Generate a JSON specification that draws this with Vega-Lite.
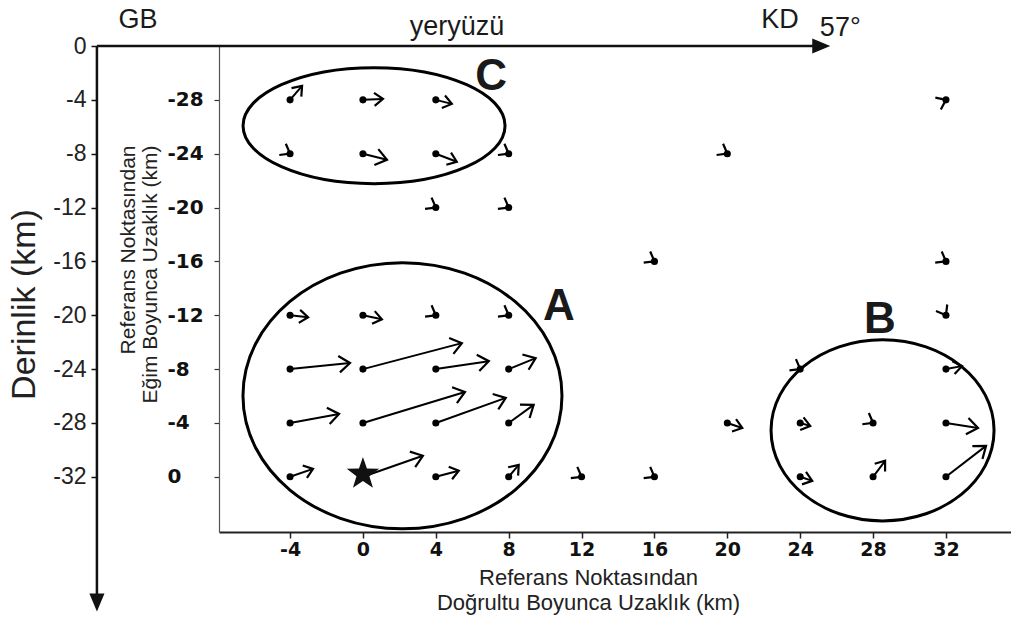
{
  "$schema": "https://vega.github.io/schema/vega-lite/v6.json",
  "width": 792,
  "height": 486,
  "autosize": "none",
  "padding": {"left": 219, "top": 46, "right": 0, "bottom": 92},
  "background": "white",
  "config": {"view": {"stroke": null}, "axis": {"grid": false}},
  "datasets": {
    "vec": [
      {"x": -4, "y": -28, "x2": -3.34, "y2": -29.04, "rake": 49},
      {"x": 0, "y": -28, "x2": 1.1, "y2": -28.07, "rake": 3},
      {"x": 4, "y": -28, "x2": 4.88, "y2": -27.7, "rake": -14},
      {"x": 32, "y": -28, "x2": 32, "y2": -28, "rake": 25},
      {"x": -4, "y": -24, "x2": -4, "y2": -24, "rake": -30},
      {"x": 0, "y": -24, "x2": 1.32, "y2": -23.55, "rake": -14},
      {"x": 4, "y": -24, "x2": 5.15, "y2": -23.4, "rake": -21},
      {"x": 8, "y": -24, "x2": 8, "y2": -24, "rake": -30},
      {"x": 20, "y": -24, "x2": 20, "y2": -24, "rake": -30},
      {"x": 4, "y": -20, "x2": 4, "y2": -20, "rake": -30},
      {"x": 8, "y": -20, "x2": 8, "y2": -20, "rake": -30},
      {"x": 16, "y": -16, "x2": 16, "y2": -16, "rake": -30},
      {"x": 32, "y": -16, "x2": 32, "y2": -16, "rake": -30},
      {"x": -4, "y": -12, "x2": -3.01, "y2": -11.85, "rake": -6},
      {"x": 0, "y": -12, "x2": 1.04, "y2": -11.7, "rake": -12},
      {"x": 4, "y": -12, "x2": 4, "y2": -12, "rake": -30},
      {"x": 8, "y": -12, "x2": 8, "y2": -12, "rake": -30},
      {"x": 32, "y": -12, "x2": 32, "y2": -12, "rake": -60},
      {"x": -4, "y": -8, "x2": -0.71, "y2": -8.45, "rake": 6},
      {"x": 0, "y": -8, "x2": 5.43, "y2": -9.93, "rake": 15},
      {"x": 4, "y": -8, "x2": 6.91, "y2": -8.59, "rake": 9},
      {"x": 8, "y": -8, "x2": 9.48, "y2": -8.82, "rake": 22},
      {"x": 24, "y": -8, "x2": 24, "y2": -8, "rake": -30},
      {"x": 32, "y": -8, "x2": 32.88, "y2": -8.22, "rake": 10},
      {"x": -4, "y": -4, "x2": -1.31, "y2": -4.67, "rake": 10},
      {"x": 0, "y": -4, "x2": 5.6, "y2": -6.3, "rake": 17},
      {"x": 4, "y": -4, "x2": 7.84, "y2": -5.86, "rake": 20},
      {"x": 8, "y": -4, "x2": 9.37, "y2": -5.34, "rake": 36},
      {"x": 20, "y": -4, "x2": 20.82, "y2": -3.63, "rake": -18},
      {"x": 24, "y": -4, "x2": 24.55, "y2": -3.78, "rake": -15},
      {"x": 28, "y": -4, "x2": 28, "y2": -4, "rake": -30},
      {"x": 32, "y": -4, "x2": 33.76, "y2": -3.63, "rake": -9},
      {"x": -4, "y": 0, "x2": -2.74, "y2": -0.59, "rake": 19},
      {"x": 0, "y": 0, "x2": 3.29, "y2": -1.56, "rake": 19},
      {"x": 4, "y": 0, "x2": 5.26, "y2": -0.45, "rake": 15},
      {"x": 8, "y": 0, "x2": 8.55, "y2": -0.89, "rake": 50},
      {"x": 12, "y": 0, "x2": 12, "y2": 0, "rake": -30},
      {"x": 16, "y": 0, "x2": 16, "y2": 0, "rake": -30},
      {"x": 24, "y": 0, "x2": 24.66, "y2": 0.3, "rake": -18},
      {"x": 28, "y": 0, "x2": 28.66, "y2": -1.19, "rake": 53},
      {"x": 32, "y": 0, "x2": 34.2, "y2": -2.3, "rake": 38}
    ],
    "ell": [
      {"name": "A", "x": 2.17, "y": -6.02},
      {"name": "B", "x": 28.52, "y": -3.45},
      {"name": "C", "x": 0.61, "y": -26.08}
    ],
    "reg": [
      {"t": "A", "x": 10.76, "y": -12.63},
      {"t": "B", "x": 28.38, "y": -11.66},
      {"t": "C", "x": 7.03, "y": -29.72}
    ],
    "star": [{"x": 0, "y": -0.2}],
    "ann": [
      {"x": -14.6, "y": -32, "x2": 25.2, "y2": -32},
      {"x": -14.6, "y": -32, "x2": -14.6, "y2": 9.4}
    ],
    "heads": [
      {"dir": "right", "x": 25.65, "y": -32},
      {"dir": "down", "x": -14.6, "y": 10.0}
    ],
    "txt": [
      {"t": "GB", "x": -12.34, "y": -33.36},
      {"t": "yeryüzü", "x": 5.16, "y": -32.84},
      {"t": "KD", "x": 22.89, "y": -33.36},
      {"t": "57°", "x": 26.2, "y": -32.75}
    ]
  },
  "resolve": {"axis": {"x": "independent", "y": "independent"}},
  "layer": [
    {
      "data": {"name": "ell"},
      "transform": [{"filter": "datum.name === 'A'"}],
      "mark": {"type": "point", "shape": "M-1,0A1,0.834 0 1,0 1,0A1,0.834 0 1,0 -1,0", "size": 101761, "filled": false, "strokeWidth": 3, "color": "black", "opacity": 1},
      "encoding": {
        "x": {"field": "x", "type": "quantitative", "scale": {"domain": [-7.9, 35.57], "nice": false, "zero": false}, "axis": null},
        "y": {"field": "y", "type": "quantitative", "scale": {"domain": [-32, 4.1], "nice": false, "zero": false, "reverse": true}, "axis": null}
      }
    },
    {
      "data": {"name": "ell"},
      "transform": [{"filter": "datum.name === 'B'"}],
      "mark": {"type": "point", "shape": "M-1,0A1,0.812 0 1,0 1,0A1,0.812 0 1,0 -1,0", "size": 49729, "filled": false, "strokeWidth": 3, "color": "black", "opacity": 1},
      "encoding": {
        "x": {"field": "x", "type": "quantitative", "axis": null},
        "y": {"field": "y", "type": "quantitative", "axis": null}
      }
    },
    {
      "data": {"name": "ell"},
      "transform": [{"filter": "datum.name === 'C'"}],
      "mark": {"type": "point", "shape": "M-1,0A1,0.443 0 1,0 1,0A1,0.443 0 1,0 -1,0", "size": 68644, "filled": false, "strokeWidth": 3, "color": "black", "opacity": 1},
      "encoding": {
        "x": {"field": "x", "type": "quantitative", "axis": null},
        "y": {"field": "y", "type": "quantitative", "axis": null}
      }
    },
    {
      "data": {"name": "vec"},
      "mark": {"type": "rule", "strokeWidth": 2, "color": "black"},
      "encoding": {
        "x": {"field": "x", "type": "quantitative", "axis": null},
        "y": {"field": "y", "type": "quantitative", "axis": null},
        "x2": {"field": "x2"},
        "y2": {"field": "y2"}
      }
    },
    {
      "data": {"name": "vec"},
      "transform": [{"filter": "abs(datum.x2 - datum.x) < 1.3"}],
      "mark": {"type": "point", "shape": "M-1,-0.75L0,0L-1,0.75", "filled": false, "size": 300, "strokeWidth": 2.2, "color": "black", "opacity": 1},
      "encoding": {
        "x": {"field": "x2", "type": "quantitative", "axis": null},
        "y": {"field": "y2", "type": "quantitative", "axis": null},
        "angle": {"field": "rake", "type": "quantitative", "scale": {"domain": [-180, 180], "range": [180, -180]}}
      }
    },
    {
      "data": {"name": "vec"},
      "transform": [{"filter": "abs(datum.x2 - datum.x) >= 1.3"}],
      "mark": {"type": "point", "shape": "M-1,-0.75L0,0L-1,0.75", "filled": false, "size": 480, "strokeWidth": 2.2, "color": "black", "opacity": 1},
      "encoding": {
        "x": {"field": "x2", "type": "quantitative", "axis": null},
        "y": {"field": "y2", "type": "quantitative", "axis": null},
        "angle": {"field": "rake", "type": "quantitative", "scale": {"domain": [-180, 180], "range": [180, -180]}}
      }
    },
    {
      "data": {"name": "vec"},
      "mark": {"type": "point", "shape": "circle", "filled": true, "size": 50, "color": "black", "opacity": 1},
      "encoding": {
        "x": {
          "field": "x", "type": "quantitative",
          "axis": {
            "orient": "bottom",
            "values": [-4, 0, 4, 8, 12, 16, 20, 24, 28, 32],
            "labelExpr": "'' + datum.value",
            "title": ["Referans Noktasından", "Doğrultu Boyunca Uzaklık (km)"],
            "labelFont": "DejaVu Sans", "labelFontWeight": "bold", "labelFontSize": 19, "labelColor": "#111",
            "labelPadding": 2, "labelFlush": false, "labelOverlap": false, "labelBound": false,
            "tickSize": 6, "tickColor": "#222", "tickWidth": 1.5,
            "domainColor": "#222", "domainWidth": 2,
            "titleFont": "Liberation Sans", "titleFontSize": 22, "titleFontWeight": "normal", "titleColor": "#222",
            "titleLineHeight": 25, "titleX": 369, "titleY": 35, "titleBaseline": "top", "titleAlign": "center", "titleAnchor": null
          }
        },
        "y": {
          "field": "y", "type": "quantitative",
          "axis": {
            "orient": "left",
            "values": [-28, -24, -20, -16, -12, -8, -4, 0],
            "labelExpr": "'' + datum.value",
            "title": ["Referans Noktasından", "Eğim Boyunca Uzaklık (km)"],
            "labelFont": "DejaVu Sans", "labelFontWeight": "bold", "labelFontSize": 20, "labelColor": "#111",
            "labelAlign": "left", "labelPadding": 47, "labelOverlap": false, "labelBound": false, "labelFlush": false,
            "tickSize": 5, "tickColor": "#333", "tickWidth": 1.2,
            "domainColor": "#555", "domainWidth": 1.2,
            "titleFont": "Liberation Sans", "titleFontSize": 21, "titleFontWeight": "normal", "titleColor": "#222",
            "titleAngle": 270, "titleAlign": "right", "titleBaseline": "top", "titleLineHeight": 22,
            "titleX": -102, "titleY": 99, "titleAnchor": null
          }
        }
      }
    },
    {
      "data": {"name": "star"},
      "mark": {"type": "point", "shape": "M0,-1L0.235,-0.324L0.951,-0.309L0.38,0.124L0.588,0.809L0,0.4L-0.588,0.809L-0.38,0.124L-0.951,-0.309L-0.235,-0.324Z", "filled": true, "size": 1156, "color": "#111", "opacity": 1},
      "encoding": {
        "x": {"field": "x", "type": "quantitative", "axis": null},
        "y": {"field": "y", "type": "quantitative", "axis": null}
      }
    },
    {
      "data": {"name": "reg"},
      "mark": {"type": "text", "font": "Liberation Sans", "fontWeight": "bold", "fontSize": 44, "color": "#1a1a1a", "baseline": "middle", "align": "center"},
      "encoding": {
        "x": {"field": "x", "type": "quantitative", "axis": null},
        "y": {"field": "y", "type": "quantitative", "axis": null},
        "text": {"field": "t"}
      }
    },
    {
      "data": {"name": "ann"},
      "mark": {"type": "rule", "strokeWidth": 2.5, "color": "#111"},
      "encoding": {
        "x": {"field": "x", "type": "quantitative", "axis": null},
        "y": {
          "field": "y", "type": "quantitative",
          "axis": {
            "orient": "left", "offset": 122,
            "values": [-32, -28, -24, -20, -16, -12, -8, -4, 0],
            "labelExpr": "'' + (-32 - datum.value)",
            "domain": false, "tickSize": 6, "tickColor": "#111", "tickWidth": 1.5,
            "labelFont": "Liberation Sans", "labelFontSize": 23, "labelPadding": 5, "labelColor": "#222",
            "labelOverlap": false, "labelBound": false, "labelFlush": false,
            "title": "Derinlik (km)", "titleFont": "Liberation Sans", "titleFontSize": 34, "titleFontWeight": "normal", "titleColor": "#222",
            "titleAngle": 270, "titleAlign": "center", "titleBaseline": "middle", "titleX": -73, "titleY": 258, "titleAnchor": null
          }
        },
        "x2": {"field": "x2"},
        "y2": {"field": "y2"}
      }
    },
    {
      "data": {"name": "heads"},
      "mark": {"type": "point", "filled": true, "size": 1296, "color": "#111", "opacity": 1},
      "encoding": {
        "x": {"field": "x", "type": "quantitative", "axis": null},
        "y": {"field": "y", "type": "quantitative", "axis": null},
        "shape": {"field": "dir", "type": "nominal", "scale": {"domain": ["right", "down"], "range": ["M0,0L-1,-0.42L-1,0.42Z", "M0,0L-0.42,-1L0.42,-1Z"]}, "legend": null}
      }
    },
    {
      "data": {"name": "txt"},
      "mark": {"type": "text", "font": "Liberation Sans Narrow, Liberation Sans", "fontSize": 27, "color": "#1a1a1a", "baseline": "alphabetic", "align": "center"},
      "encoding": {
        "x": {"field": "x", "type": "quantitative", "axis": null},
        "y": {"field": "y", "type": "quantitative", "axis": null},
        "text": {"field": "t"}
      }
    }
  ]
}
